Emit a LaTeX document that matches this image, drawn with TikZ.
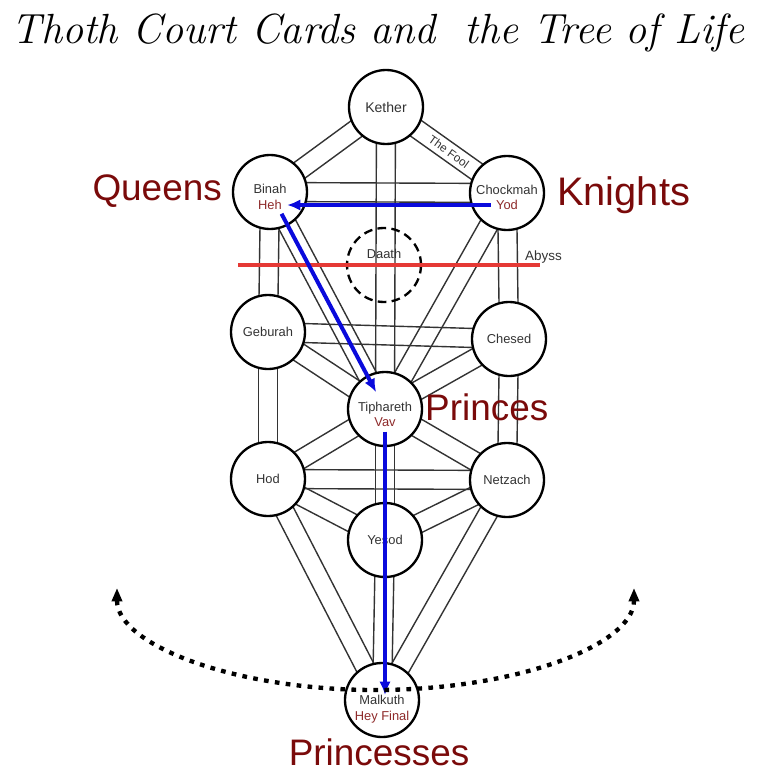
\documentclass[tikz,border=0pt]{standalone}
\usepackage{fontspec}
\newfontfamily\arialfont{Liberation Sans}
\usepackage{xcolor}
\usepackage{tikz}
\usetikzlibrary{arrows.meta,positioning,calc,backgrounds}

\definecolor{inkgray}{HTML}{333333}
\definecolor{hebred}{HTML}{8E2A2A}
\definecolor{courtred}{HTML}{7A0A0A}
\definecolor{abyssred}{HTML}{E53935}
\definecolor{flowblue}{HTML}{0A0ADC}

% half the width of a channel between two sephiroth
\newcommand\chanhalf{0.285cm}

\begin{document}
\begin{tikzpicture}[
  x=0.03cm, y=-0.03cm,
  sephira/.style = {circle, draw, line width=0.7mm, fill=white,
                    minimum size=2.22cm, inner sep=0pt},
  veiled/.style  = {sephira, fill=none, dash pattern=on 2.6mm off 1.6mm},
  sname/.style   = {font=\arialfont\fontsize{11}{13}\selectfont,
                    text=inkgray, inner sep=0pt},
  letter/.style  = {font=\arialfont\fontsize{11}{13}\selectfont,
                    text=hebred, inner sep=1.5mm},
  court/.style   = {font=\arialfont\fontsize{31.5}{36}\selectfont,
                    text=courtred, inner sep=0pt},
  channel/.style = {draw=inkgray, line width=0.42mm,
                    to path={($(\tikztostart)!\chanhalf!90:(\tikztotarget)$)
                          -- ($(\tikztotarget)!\chanhalf!-90:(\tikztostart)$)
                             ($(\tikztostart)!\chanhalf!-90:(\tikztotarget)$)
                          -- ($(\tikztotarget)!\chanhalf!90:(\tikztostart)$)}},
  flow/.style    = {-{Latex[length=4mm,width=3.4mm]}, line width=1.2mm, flowblue},
  swing/.style   = {{Triangle[length=4mm,width=3mm]}-{Triangle[length=4mm,width=3mm]},
                    line width=1.3mm, dash pattern=on 1.4mm off 1.9mm}
]
  \useasboundingbox (0,0) rectangle (768,777);

  % Title
  \node[anchor=base, font=\itshape\fontsize{36}{40}\selectfont] (title) at (378,43)
       {Thoth Court Cards and\ \ the Tree of Life};

  % Sephiroth
  \node[sephira] (kether)    at (386,107) {};
  \node[sephira] (binah)     at (270,192) {};
  \node[sephira] (chokmah)   at (507,193) {};
  \node[veiled]  (daath)     at (384,265) {};
  \node[sephira] (geburah)   at (268,332) {};
  \node[sephira] (chesed)    at (509,339) {};
  \node[sephira] (tiphareth) at (385,409) {};
  \node[sephira] (hod)       at (268,479) {};
  \node[sephira] (netzach)   at (507,480) {};
  \node[sephira] (yesod)     at (385,540) {};
  \node[sephira] (malkuth)   at (382,700) {};

  % Names and letters
  \node[sname, font=\arialfont\fontsize{12}{14}\selectfont] (kethern) at (kether) {Kether};
  \node[sname, yshift=0.09cm]  (binahn)   at (binah)     {Binah};
  \node[letter, yshift=-0.39cm] (heh)     at (binah)     {Heh};
  \node[sname, yshift=0.09cm]  (chokmahn) at (chokmah)   {Chockmah};
  \node[letter, yshift=-0.36cm] (yod)     at (chokmah)   {Yod};
  \node[sname, yshift=0.33cm]  (daathn)   at (daath)     {Daath};
  \node[sname]                 (geburahn) at (geburah)   {Geburah};
  \node[sname]                 (chesedn)  at (chesed)    {Chesed};
  \node[sname, yshift=0.03cm]  (tipharn)  at (tiphareth) {Tiphareth};
  \node[letter, yshift=-0.39cm] (vav)     at (tiphareth) {Vav};
  \node[sname]                 (hodn)     at (hod)       {Hod};
  \node[sname]                 (netzachn) at (netzach)   {Netzach};
  \node[sname]                 (yesodn)   at (yesod)     {Yesod};
  \node[sname]                 (malkuthn) at (malkuth)   {Malkuth};
  \node[letter, yshift=-0.51cm] (heyfinal) at (malkuth)  {Hey Final};

  % The 22 paths
  \begin{scope}[on background layer]
    \draw[channel] (kether)    to (chokmah);
    \draw[channel] (kether)    to (binah);
    \draw[channel] (kether)    to (tiphareth);
    \draw[channel] (chokmah)   to (binah);
    \draw[channel] (chokmah)   to (tiphareth);
    \draw[channel] (chokmah)   to (chesed);
    \draw[channel] (binah)     to (tiphareth);
    \draw[channel] (binah)     to (geburah);
    \draw[channel] (chesed)    to (geburah);
    \draw[channel] (chesed)    to (tiphareth);
    \draw[channel] (chesed)    to (netzach);
    \draw[channel] (geburah)   to (tiphareth);
    \draw[channel] (geburah)   to (hod);
    \draw[channel] (tiphareth) to (netzach);
    \draw[channel] (tiphareth) to (yesod);
    \draw[channel] (tiphareth) to (hod);
    \draw[channel] (netzach)   to (hod);
    \draw[channel] (netzach)   to (yesod);
    \draw[channel] (netzach)   to (malkuth);
    \draw[channel] (hod)       to (yesod);
    \draw[channel] (hod)       to (malkuth);
    \draw[channel] (yesod)     to (malkuth);
  \end{scope}

  \node[sname, rotate=-35.5, font=\arialfont\fontsize{10}{12}\selectfont] (fool)
       at ($(kether)!0.52!(chokmah)$) {The Fool};

  % Abyss
  \coordinate (abyssL) at (238,265);
  \coordinate (abyssR) at (540,265);
  \draw[abyssred, line width=1mm] (abyssL) -- (abyssR);
  \node[sname, anchor=south west, font=\arialfont\fontsize{11.5}{13}\selectfont] (abyss)
       at (525,264) {Abyss};

  % Court cards
  \node[court, anchor=base east] (queens) at (222,200) {Queens};
  \node[court, anchor=base west, font=\arialfont\fontsize{34}{38}\selectfont] (knights)
       at (557,205) {Knights};
  \node[court, anchor=base west] (princes) at (425,420) {Princes};
  \node[court, anchor=base] (princesses) at (379,765) {Princesses};

  % Flow of the name
  \draw[flow] (yod.west) -- (heh.east);
  \draw[flow, shorten <=0.74cm, shorten >=0.57cm] (binah.center) -- (tiphareth.center);
  \draw[flow] (vav.south) -- (vav.south |- malkuthn.north);

  % Princesses return
  \coordinate (swingL) at (117,588);
  \draw[swing] (swingL) arc[start angle=180, end angle=0, x radius=258.5, y radius=102];
\end{tikzpicture}
\end{document}
